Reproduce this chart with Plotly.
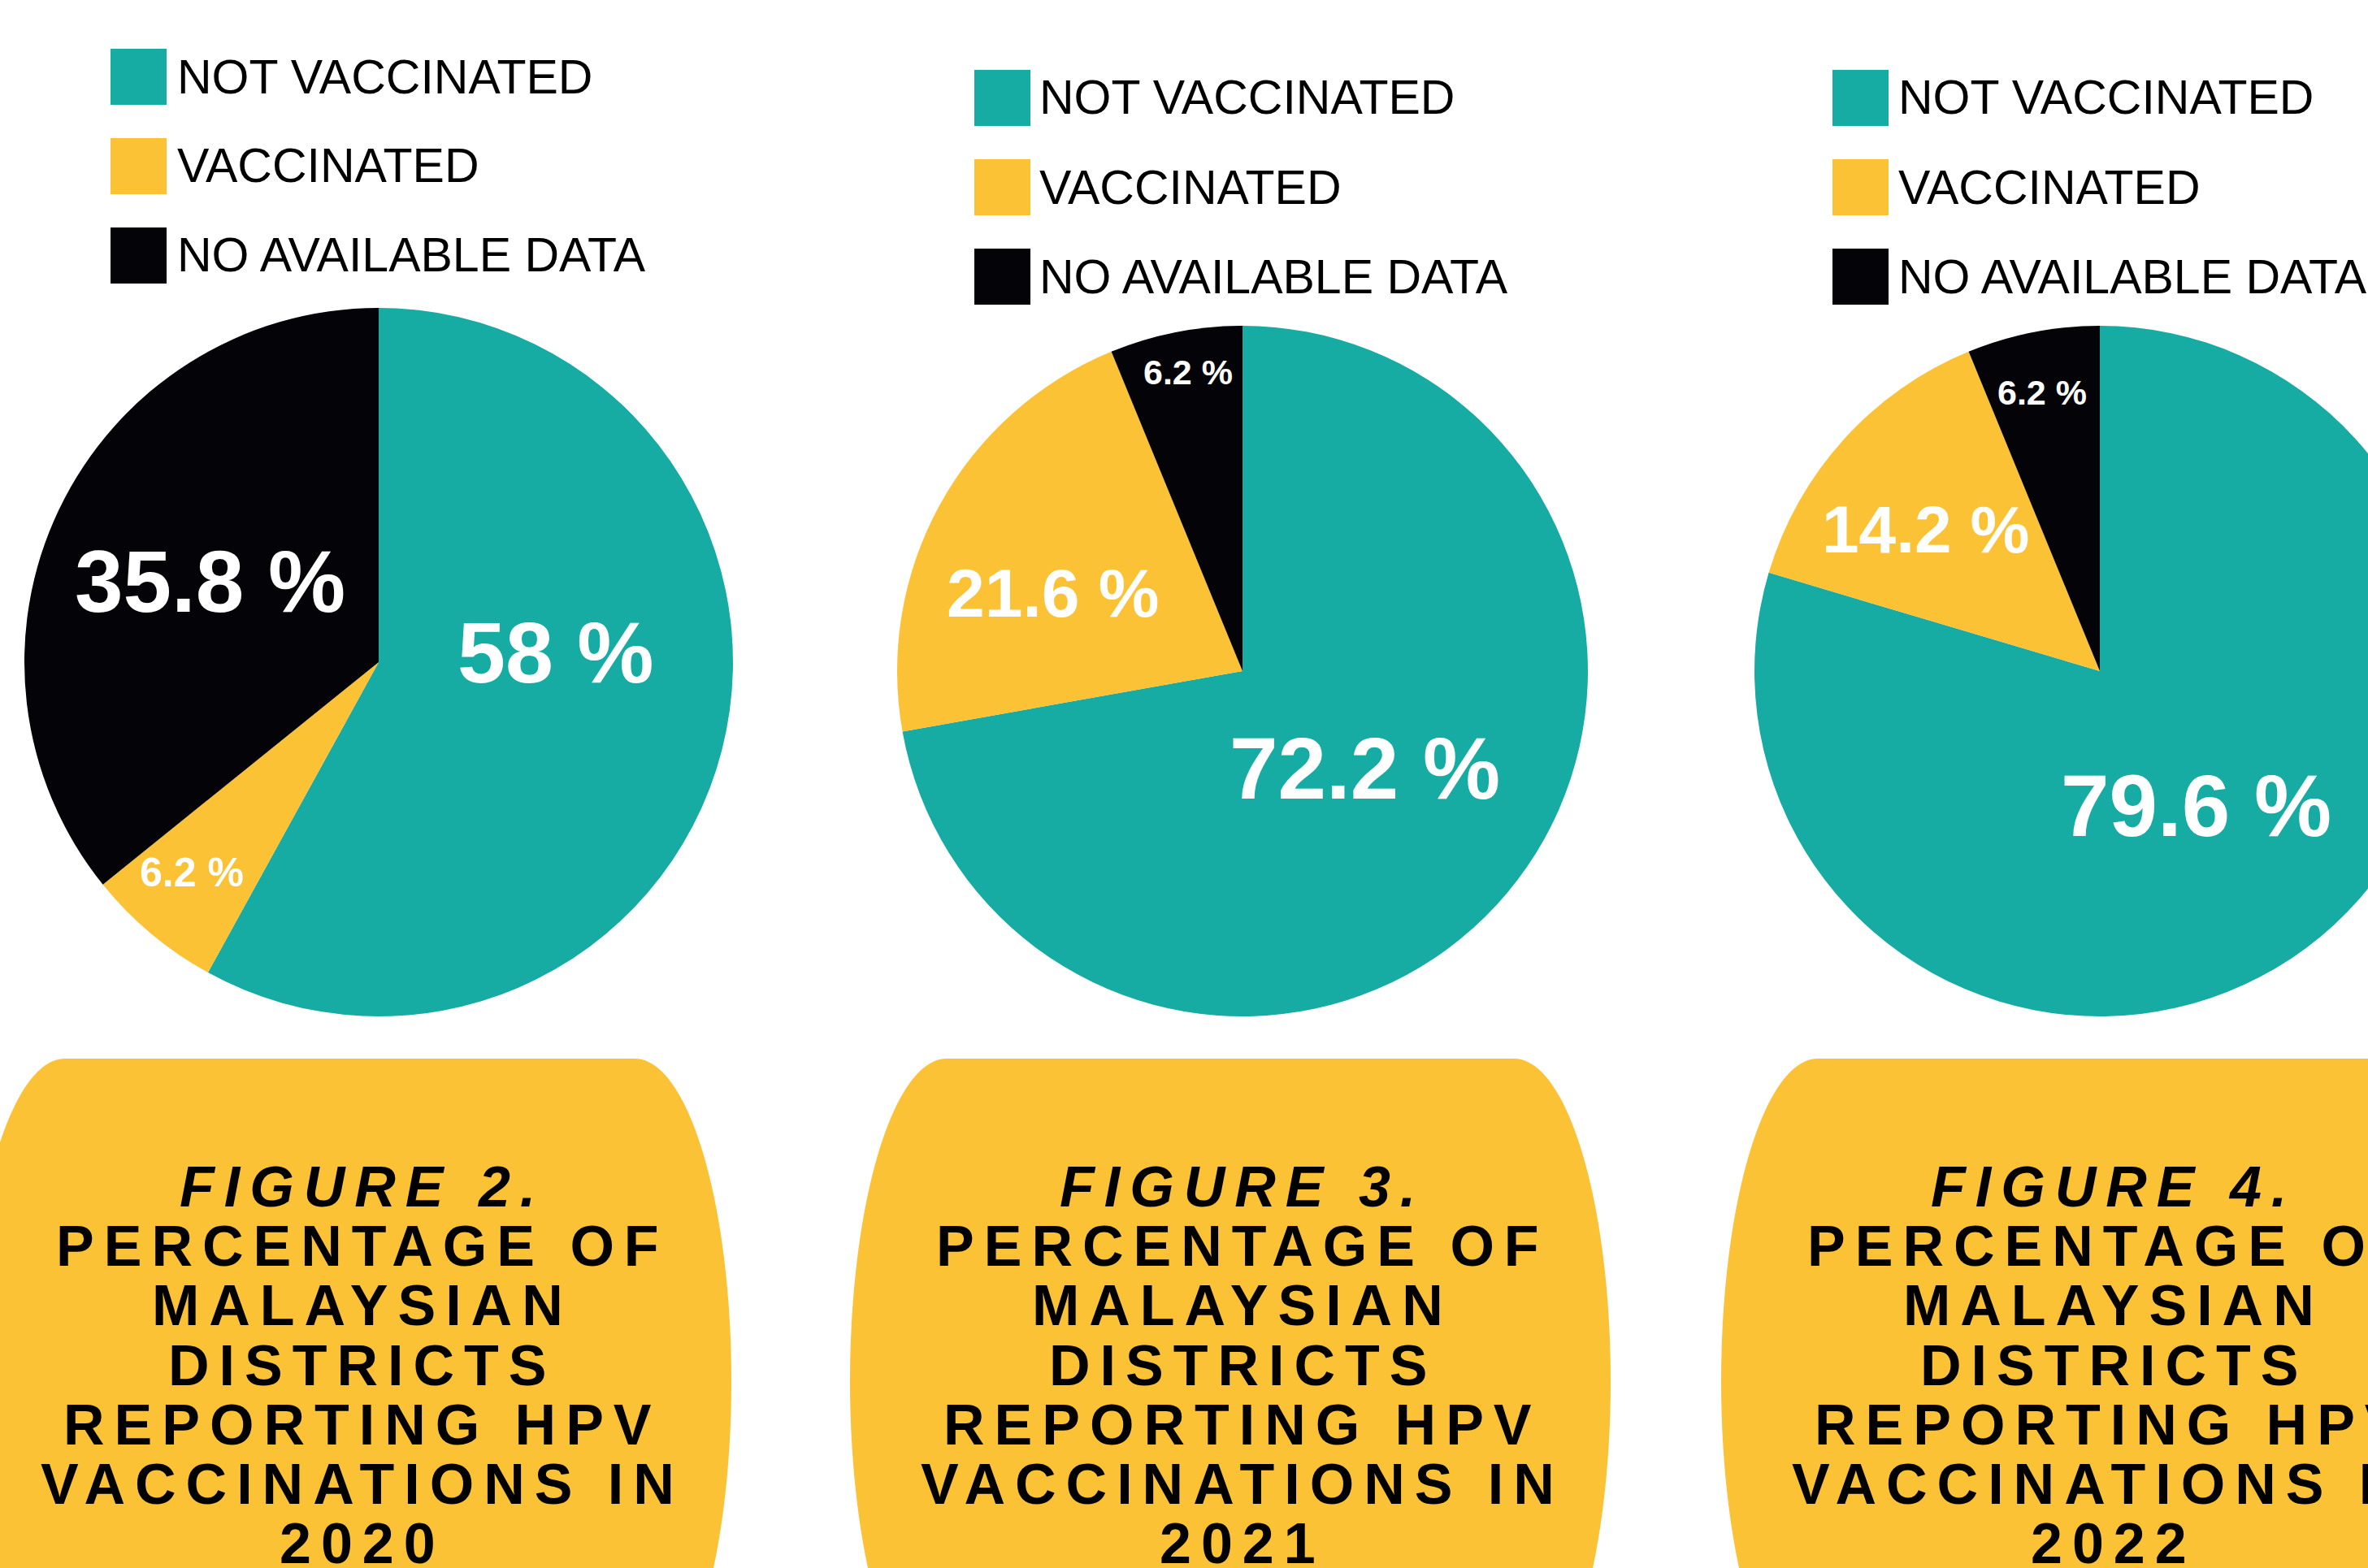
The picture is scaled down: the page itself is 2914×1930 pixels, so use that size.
import math
import plotly.graph_objects as go

# ---------------- data ----------------
categories = ["NOT VACCINATED", "VACCINATED", "NO AVAILABLE DATA"]
values_2020 = [58.0, 6.2, 35.8]
values_2021 = [72.2, 21.6, 6.2]
values_2022 = [79.6, 14.2, 6.2]
value_labels_2020 = ["58 %", "6.2 %", "35.8 %"]
value_labels_2021 = ["72.2 %", "21.6 %", "6.2 %"]
value_labels_2022 = ["79.6 %", "14.2 %", "6.2 %"]
figure_numbers = ["FIGURE 2.", "FIGURE 3.", "FIGURE 4."]
caption_lines = ["PERCENTAGE OF", "MALAYSIAN", "DISTRICTS", "REPORTING HPV", "VACCINATIONS IN"]
years = ["2020", "2021", "2022"]

# ---------------- style ----------------
colors = ["#16ACA3", "#FBC236", "#030308"]
W, H = 3100, 1930
FONT = "Liberation Sans, Arial, Helvetica, sans-serif"

def fx(x):
    return x / W

def fy(y):
    return 1 - y / H

pies = [
    dict(vals=values_2020, txt=value_labels_2020, cx=466, cy=815, R=436,
         place=[(0.50, -17.6, 106), (0.795, 1.6, 50), (0.527, 0.0, 107)],
         legend=(136, 94.5, 221), cap_x=440, shape=(80, 781)),
    dict(vals=values_2021, txt=value_labels_2021, cx=1529, cy=826, R=425,
         place=[(0.453, -1.5, 107), (0.593, -6.4, 84), (0.88, 0.9, 43)],
         legend=(1199, 120.5, 1282), cap_x=1523, shape=(1165, 1863)),
    dict(vals=values_2022, txt=value_labels_2022, cx=2584, cy=826, R=425,
         place=[(0.48, 1.3, 107), (0.65, -3.0, 82), (0.825, -0.5, 43)],
         legend=(2255, 120.5, 2339), cap_x=2595, shape=(2237, 2935)),
]

fig = go.Figure()
annotations = []
shapes = []

for p in pies:
    cx, cy, R = p["cx"], p["cy"], p["R"]
    fig.add_trace(go.Pie(
        labels=categories, values=p["vals"], sort=False,
        direction="clockwise", rotation=0,
        marker=dict(colors=colors, line=dict(width=0)),
        textinfo="none", hoverinfo="label+percent", showlegend=False,
        domain=dict(x=[fx(cx - R), fx(cx + R)], y=[fy(cy + R), fy(cy - R)]),
    ))
    # slice value labels placed along slice bisectors
    total = sum(p["vals"])
    cum = 0.0
    for v, t, (rf, da, fs) in zip(p["vals"], p["txt"], p["place"]):
        ang = math.radians((cum + v / 2) / total * 360 + da)
        cum += v
        x = cx + rf * R * math.sin(ang)
        y = cy - rf * R * math.cos(ang)
        annotations.append(dict(
            x=fx(x), y=fy(y), xref="paper", yref="paper", showarrow=False,
            text="<b>%s</b>" % t, xanchor="center", yanchor="middle",
            font=dict(family=FONT, size=fs, color="white")))
    # legend
    sx, sy0, tx = p["legend"]
    for i, (lab, col) in enumerate(zip(categories, colors)):
        yc = sy0 + i * 110
        shapes.append(dict(type="rect", xref="paper", yref="paper",
                           x0=fx(sx), x1=fx(sx + 69), y0=fy(yc - 34.5), y1=fy(yc + 34.5),
                           fillcolor=col, line=dict(width=0), layer="above"))
        annotations.append(dict(
            x=fx(tx - 5), y=fy(yc), xref="paper", yref="paper", showarrow=False,
            text=lab, xanchor="left", yanchor="middle",
            font=dict(family=FONT, size=59, color="black")))
    # caption background (flat top, elliptical sides)
    x0, x1 = p["shape"]
    top, ymid, rx, ry = 1303, 1700, 119, 397
    bot = ymid + ry
    k = 0.5523
    pts = [
        ("M", [(x0, top)]),
        ("L", [(x1, top)]),
        ("C", [(x1 + k * rx, top), (x1 + rx, ymid - k * ry), (x1 + rx, ymid)]),
        ("C", [(x1 + rx, ymid + k * ry), (x1 + k * rx, bot), (x1, bot)]),
        ("L", [(x0, bot)]),
        ("C", [(x0 - k * rx, bot), (x0 - rx, ymid + k * ry), (x0 - rx, ymid)]),
        ("C", [(x0 - rx, ymid - k * ry), (x0 - k * rx, top), (x0, top)]),
    ]
    path = ""
    for cmd, coords in pts:
        path += cmd + " ".join("%.6f,%.6f" % (fx(a), fy(b)) for a, b in coords)
    path += "Z"
    shapes.append(dict(type="path", path=path, xref="paper", yref="paper",
                       fillcolor="#FBC236", line=dict(width=0), layer="below"))

# caption text
for j, p in enumerate(pies):
    lines = ["<i>%s</i>" % figure_numbers[j]] + caption_lines + [years[j]]
    for i, ln in enumerate(lines):
        yc = 1461 + i * 73.2
        annotations.append(dict(
            x=fx(p["cap_x"] + 6), y=fy(yc), xref="paper", yref="paper", showarrow=False,
            text='<span style="letter-spacing:12px"><b>%s</b></span>' % ln,
            xanchor="center", yanchor="middle",
            font=dict(family=FONT, size=70, color="black")))

fig.update_layout(
    width=W, height=H,
    margin=dict(l=0, r=0, t=0, b=0),
    paper_bgcolor="white", plot_bgcolor="white",
    annotations=annotations, shapes=shapes,
    showlegend=False,
)

fig.write_html(
    "out.html",
    config={"displayModeBar": False},
    post_script="document.body.style.margin='0';"
                "document.documentElement.style.overflow='hidden';"
                "document.body.style.overflow='hidden';",
)
